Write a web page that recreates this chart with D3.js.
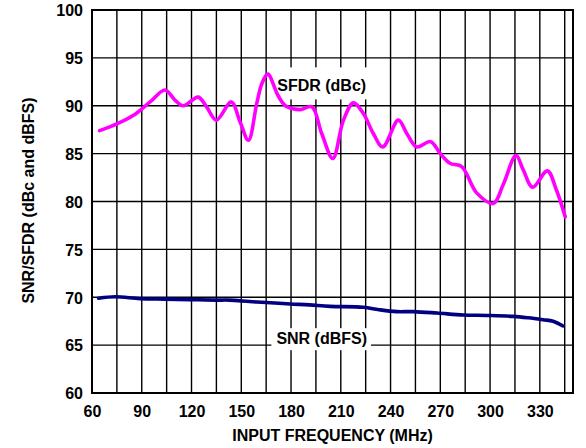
<!DOCTYPE html>
<html>
<head>
<meta charset="utf-8">
<script src="https://cdn.jsdelivr.net/npm/d3@7"></script>
<style>
  html, body { margin: 0; padding: 0; background: #fff; }
  svg { display: block; }
  text { font-family: "Liberation Sans", Arial, sans-serif; font-weight: bold; fill: #000; }
</style>
</head>
<body>
<svg id="chart" width="586" height="448"></svg>
<script>
// ---- Data ----
const sfdrFreq = [64.6, 75, 85, 95, 104, 110, 115, 124, 129, 135, 144, 149.3, 154.3, 159.4, 162.4, 166, 171.5, 174.5, 177.5, 185.5, 192.5, 198.5, 205.2, 211.6, 217.6, 223.6, 229.6, 235.3, 244.7, 249.8, 255.8, 264.2, 270, 275.8, 282.9, 291.9, 301.9, 308, 315.6, 320, 325.7, 334.5, 340, 345.3];
const sfdrValues = [87.4, 88.1, 89.0, 90.4, 91.65, 90.6, 90.0, 90.9, 89.9, 88.5, 90.4, 88.3, 86.4, 90.3, 92.3, 93.3, 91.3, 90.4, 89.9, 89.6, 89.9, 87.1, 84.5, 88.5, 90.3, 89.2, 87.1, 85.7, 88.5, 87.1, 85.7, 86.25, 85.0, 84.0, 83.65, 80.9, 79.8, 81.8, 84.8, 83.3, 81.5, 83.2, 81.2, 78.4];

const snrFreq = [64, 74, 89, 104, 119, 134, 143, 155, 165, 179.5, 191, 203.5, 223.6, 233, 243.7, 253.7, 268, 283.8, 298, 313.9, 323, 332, 338, 344];
const snrValues = [69.9, 70.05, 69.85, 69.8, 69.75, 69.7, 69.7, 69.55, 69.45, 69.3, 69.2, 69.05, 68.95, 68.7, 68.5, 68.5, 68.35, 68.15, 68.1, 68.0, 67.85, 67.65, 67.5, 67.0];

const xTickLabels = [60, 90, 120, 150, 180, 210, 240, 270, 300, 330];
const xGridValues = [75, 90, 105, 120, 135, 150, 165, 180, 195, 210, 225, 240, 255, 270, 285, 300, 315, 330, 345];
const yTickLabels = [60, 65, 70, 75, 80, 85, 90, 95, 100];

const seriesNames = ["SFDR (dBc)", "SNR (dBFS)"];

// ---- Layout ----
const svg = d3.select("#chart");
const mLeft = 92, mRight = 573, mTop = 10, mBottom = 393;

const x = d3.scaleLinear().domain([60, 350]).range([mLeft, mRight]);
const y = d3.scaleLinear().domain([60, 100]).range([mBottom, mTop]);

// grid
const grid = svg.append("g").attr("stroke", "#000").attr("stroke-width", 1.4);
grid.selectAll("line.v").data(xGridValues).join("line")
  .attr("x1", d => x(d)).attr("x2", d => x(d))
  .attr("y1", mTop).attr("y2", mBottom);
grid.selectAll("line.h").data(yTickLabels.slice(1, -1)).join("line")
  .attr("x1", mLeft).attr("x2", mRight)
  .attr("y1", d => y(d)).attr("y2", d => y(d));

// series labels with white background boxes (anchor in data units, box padding in px)
const labelLayout = [
  { f: 198.5, v: 91.5, pad: [10, 5, 4, 4] },   // top, bottom, left, right
  { f: 198.5, v: 65.1, pad: [2, 3, 5, 4] }
];
const lab = svg.append("g");
seriesNames.forEach((name, i) => {
  const L = labelLayout[i];
  const t = lab.append("text")
    .attr("x", x(L.f)).attr("y", y(L.v))
    .attr("text-anchor", "middle")
    .attr("font-size", 16)
    .text(name);
  const bb = t.node().getBBox();
  lab.insert("rect", "text")
    .attr("x", bb.x - L.pad[2]).attr("y", bb.y - L.pad[0])
    .attr("width", bb.width + L.pad[2] + L.pad[3]).attr("height", bb.height + L.pad[0] + L.pad[1])
    .attr("fill", "#fff");
});

// lines
const line = (fs, vs) => d3.line()
  .x((d, i) => x(fs[i])).y(d => y(d))
  .curve(d3.curveCatmullRom.alpha(0.5))(vs);

svg.append("path").attr("d", line(snrFreq, snrValues))
  .attr("fill", "none").attr("stroke", "#000080").attr("stroke-width", 3.6)
  .attr("stroke-linejoin", "round").attr("stroke-linecap", "round");

svg.append("path").attr("d", line(sfdrFreq, sfdrValues))
  .attr("fill", "none").attr("stroke", "#ff00ff").attr("stroke-width", 3.6)
  .attr("stroke-linejoin", "round").attr("stroke-linecap", "round");

// frame
svg.append("rect").attr("x", mLeft).attr("y", mTop)
  .attr("width", mRight - mLeft).attr("height", mBottom - mTop)
  .attr("fill", "none").attr("stroke", "#000").attr("stroke-width", 2);

// axes (labels only)
const xAxis = d3.axisBottom(x).tickValues(xTickLabels).tickSize(0).tickPadding(0);
const gx = svg.append("g").attr("transform", `translate(0,${mBottom})`).call(xAxis);
gx.select(".domain").remove();
gx.selectAll("text").attr("font-size", 16).attr("dy", null).attr("y", 24)
  .attr("font-family", "Liberation Sans, Arial, sans-serif").attr("font-weight", "bold").attr("fill", "#000");

const yAxis = d3.axisLeft(y).tickValues(yTickLabels).tickSize(0).tickPadding(0);
const gy = svg.append("g").attr("transform", `translate(${mLeft},0)`).call(yAxis);
gy.select(".domain").remove();
gy.selectAll("text").attr("font-size", 16).attr("x", -9).attr("dy", "0.36em")
  .attr("font-family", "Liberation Sans, Arial, sans-serif").attr("font-weight", "bold").attr("fill", "#000");

// axis titles
svg.append("text").attr("x", (mLeft + mRight) / 2).attr("y", 441)
  .attr("text-anchor", "middle").attr("font-size", 16)
  .text("INPUT FREQUENCY (MHz)");

svg.append("text")
  .attr("transform", `translate(33.5,200.5) rotate(-90)`)
  .attr("text-anchor", "middle").attr("font-size", 16)
  .text("SNR/SFDR (dBc and dBFS)");
</script>
</body>
</html>
